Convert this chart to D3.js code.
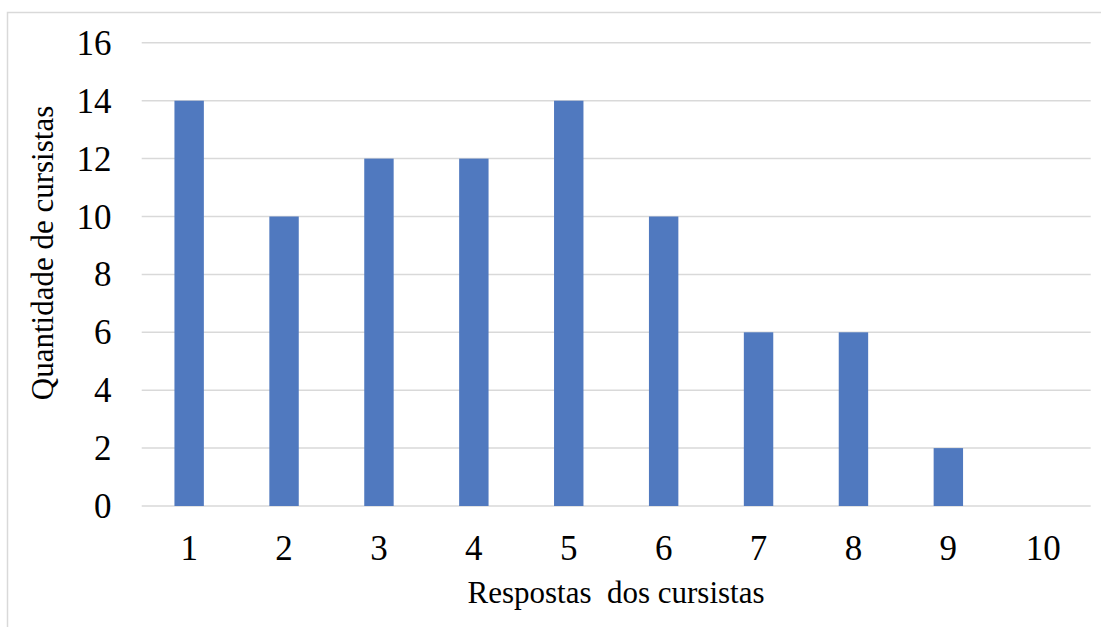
<!DOCTYPE html>
<html><head><meta charset="utf-8">
<script src="https://cdn.jsdelivr.net/npm/d3@7"></script>
<style>html,body{margin:0;padding:0;background:#fff;}svg{display:block;}
svg text{font-family:"Liberation Serif","Times New Roman","DejaVu Serif",serif !important;}</style>
</head><body>
<script>
const categories = ["1","2","3","4","5","6","7","8","9","10"];
const values = [14,10,12,12,14,10,6,6,2,0];
const yTicks = [0,2,4,6,8,10,12,14,16];
const xTitle = "Respostas  dos cursistas";
const yTitle = "Quantidade de cursistas";

const W = 1101, H = 627;
const svg = d3.select("body").append("svg").attr("width", W).attr("height", H);

// outer border
svg.append("path").attr("d", `M7.5,${H}V12.5H${W}`).attr("fill","none").attr("stroke","#d9d9d9").attr("stroke-width",1.5);

const m = {left:141.7, right:1090.7, top:42.8, bottom:506};
const x = d3.scaleBand().domain(categories).range([m.left, m.right]).paddingInner(0.69).paddingOuter(0.345);
const y = d3.scaleLinear().domain([0,16]).range([m.bottom, m.top]);

// gridlines
svg.append("g").selectAll("line").data(yTicks).join("line")
  .attr("x1", m.left).attr("x2", m.right)
  .attr("y1", d=>y(d)).attr("y2", d=>y(d))
  .attr("stroke", "#d9d9d9").attr("stroke-width", 1.5);

// bars
svg.append("g").selectAll("rect").data(values).join("rect")
  .attr("x", (d,i)=>x(categories[i])).attr("width", x.bandwidth())
  .attr("y", d=>y(d)).attr("height", d=>y(0)-y(d))
  .attr("fill", "#5079bf");

// y axis labels
const yAxis = d3.axisLeft(y).tickValues(yTicks).tickSize(0).tickPadding(0);
const gy = svg.append("g").attr("transform", `translate(111.5,0)`).call(yAxis);
gy.select(".domain").remove();
gy.selectAll("text").attr("font-size", 35).attr("fill", "#000").attr("dy", "0.33em");

// x axis labels
const xAxis = d3.axisBottom(x).tickSize(0).tickPadding(0);
const gx = svg.append("g").call(xAxis);
gx.select(".domain").remove();
gx.selectAll("text").attr("font-size", 35).attr("fill", "#000").attr("y", 560).attr("dy", 0);

// titles
svg.append("text").attr("x", 616).attr("y", 603).attr("text-anchor","middle")
  .attr("font-size", 31).attr("fill","#000")
  .style("white-space","pre").text(xTitle);
svg.append("text").attr("transform", "translate(53,253) rotate(-90)").attr("text-anchor","middle")
  .attr("font-size", 31).attr("fill","#000").text(yTitle);
</script>
</body></html>
